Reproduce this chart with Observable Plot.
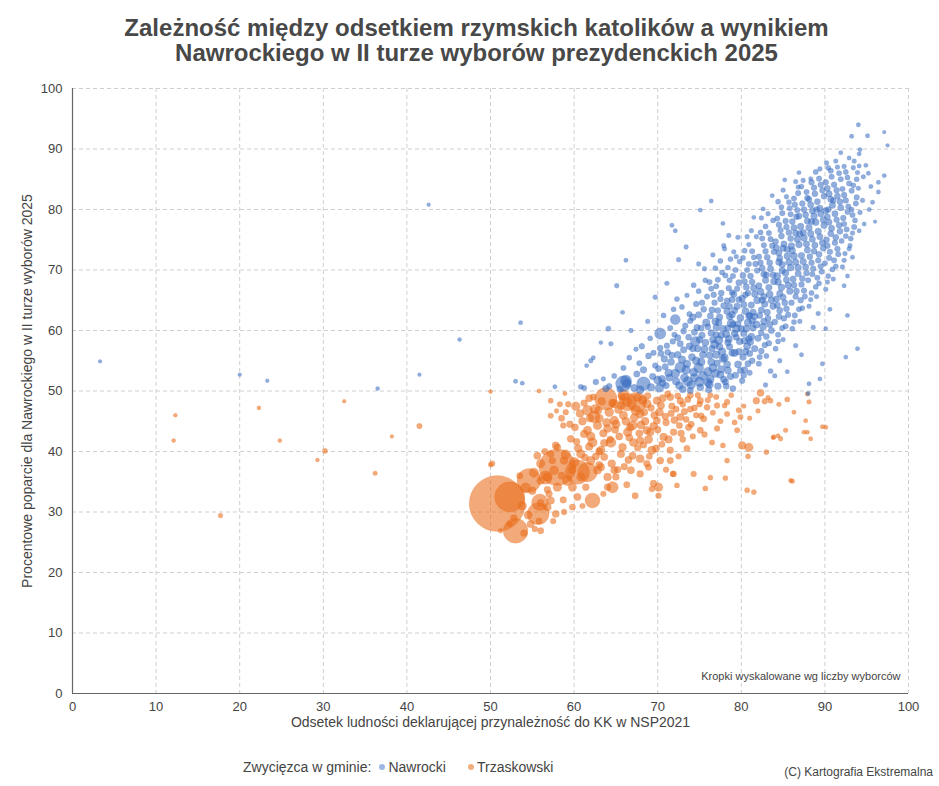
<!DOCTYPE html>
<html>
<head>
<meta charset="utf-8">
<script src="https://cdn.jsdelivr.net/npm/d3@7"></script>
<script src="https://cdn.jsdelivr.net/npm/@observablehq/plot@0.6"></script>
<style>
  body { margin: 0; background: #fff; font-family: "Liberation Sans", Arial, sans-serif; color: #444; }
  #wrap { position: relative; width: 939px; height: 786px; overflow: hidden; }
  #title { position: absolute; top: 15px; left: 7px; width: 939px; text-align: center; font-weight: bold; font-size: 24px; line-height: 25px; color: #484848; }
  #chart { position: absolute; top: 0; left: 0; }
  #legend { position: absolute; top: 759px; left: 243px; font-size: 14px; color: #444; white-space: nowrap; }
  #legend .dot { display: inline-block; width: 6px; height: 6px; border-radius: 50%; margin: 0 3px 2px 8px; vertical-align: middle; }
  #credit { position: absolute; top: 765px; right: 6px; font-size: 12px; color: #444; }
</style>
</head>
<body>
<div id="wrap">
  <div id="chart"></div>
  <div id="title">Zależność między odsetkiem rzymskich katolików a wynikiem<br>Nawrockiego w II turze wyborów prezydenckich 2025</div>
  <div id="legend">Zwycięzca w gminie:<span class="dot" style="background:#9db8e4"></span>Nawrocki<span class="dot" style="background:#f2ad7c;margin-left:22px"></span>Trzaskowski</div>
  <div id="credit">(C) Kartografia Ekstremalna</div>
</div>
<script>
// [odsetek katolików %, poparcie Nawrockiego %, liczba wyborców (tys.)]
const nawrocki = [
  [3.3,54.9,1],[20.0,52.7,1],[23.3,51.7,1],[36.5,50.4,1.5],[41.5,52.7,1],[46.3,58.5,1.5],[42.6,80.8,1],
  [53.0,51.6,2],[53.8,51.3,2],[53.6,61.3,2],[57.7,50.7,2],[60.8,50.7,4],[61.5,54.2,2],[62.3,55.5,2],[63.2,58.0,1.5],
  [61.2,50.5,4],[62.6,51.5,6],[63.8,50.4,10],[65.9,51.2,88],
  [64.2,50.8,6],[64.8,52.5,4],[65.5,50.3,9],[65.9,53.8,5],[66.3,51.2,22],[66.6,55.5,4],[65.1,67.4,3],[64.1,60.3,4],
  [64.4,57.8,3],[62.0,55.0,3],[66.2,71.6,2],[65.8,63.0,2],[66.8,60.0,3],[63.5,52.0,3],[66.2,51.7,40],
  [67.2,50.5,12],[67.5,52.8,8],[67.8,54.6,5],[68.1,57.4,6],[68.3,51.2,64],[68.3,53.5,10],[68.9,55.8,7],[67.4,56.9,3],
  [69.2,50.6,14],[69.4,52.4,9],[69.7,54.2,6],[69.1,58.7,4],[69.7,65.5,3],[68.8,61.5,3],[69.5,56.3,5],[67.9,50.2,15],
  [70.2,50.5,20],[70.5,52.0,12],[70.1,53.7,8],[70.8,55.3,10],[70.3,59.5,40],[70.3,57.1,6],[71.0,50.9,9],[71.3,53.0,15],
  [71.6,54.8,11],[71.2,56.4,7],[71.8,58.2,6],[71.5,60.4,5],[72.1,61.8,30],[71.9,63.5,4],[72.2,51.6,14],[72.7,53.9,35],
  [72.4,56.0,10],[72.7,57.8,8],[72.3,65.2,4],[72.5,71.7,3],[71.7,77.4,2],[72.1,76.5,2],[70.7,62.5,4],[71.1,67.8,3],
  [73.0,50.3,12],[73.2,52.2,18],[73.5,54.5,14],[73.1,56.8,9],[73.7,58.9,7],[73.3,60.8,6],[73.8,62.7,5],[73.4,73.8,3],
  [74.0,51.0,20],[74.3,53.1,16],[74.1,55.6,12],[74.5,58.2,28],[74.7,60.5,8],[74.2,62.2,10],[74.6,64.4,6],[74.9,66.5,4],
  [74.9,71.0,3],[75.1,50.6,11],[75.4,52.5,22],[75.2,54.8,15],[75.6,56.9,12],[75.3,59.2,9],[75.8,61.3,14],[75.5,63.5,7],
  [75.9,65.6,5],[75.1,79.9,2],[75.7,68.3,4],[73.9,50.1,8],[74.8,57.0,10],[73.6,51.6,25],[74.9,53.8,30],[76.0,51.4,18],
  [76.1,50.2,9],[76.3,52.0,14],[76.6,53.8,18],[76.2,55.9,11],[76.8,57.7,16],[76.4,59.6,10],[76.9,61.5,12],[76.5,63.4,8],
  [76.7,65.9,6],[76.2,68.0,5],[76.4,81.4,2],[76.9,70.3,4],[77.2,50.8,10],[77.5,52.7,13],[77.1,54.6,9],[77.7,56.5,15],
  [77.3,58.4,20],[77.8,60.3,11],[77.4,62.2,9],[77.9,64.1,8],[77.6,66.2,7],[77.2,68.4,5],[77.8,77.7,2],[77.9,74.0,3],
  [77.5,71.5,4],[76.0,60.6,7],[77.0,59.3,8],[76.5,57.0,9],[77.6,53.6,12],
  [78.1,51.5,8],[78.4,53.4,11],[78.0,55.5,14],[78.6,57.3,9],[78.2,59.4,12],[78.8,61.2,18],[78.3,63.2,10],[78.9,65.1,8],
  [78.5,67.0,6],[78.1,69.1,5],[78.5,75.7,3],[78.7,71.8,4],[79.0,50.4,7],[79.3,52.6,9],[79.6,54.4,11],[79.2,56.3,13],
  [79.8,58.2,10],[79.4,60.3,15],[79.9,62.1,12],[79.5,64.0,9],[79.1,66.0,8],[79.7,67.9,7],[79.3,70.0,5],[79.1,73.0,3],
  [79.6,75.4,3],[78.4,58.0,9],[79.0,61.0,8],[78.6,64.0,7],[78.9,62.6,10],[79.4,58.9,8],
  [80.1,51.7,6],[80.4,53.5,8],[80.2,55.6,10],[80.7,57.4,12],[80.3,59.5,9],[80.8,61.3,14],[80.5,63.2,11],[80.1,65.3,9],
  [80.6,67.2,8],[80.2,69.1,7],[80.9,71.0,5],[80.4,73.2,4],[80.7,75.5,3],[81.0,53.0,5],[81.3,55.0,7],[81.6,57.0,9],
  [81.2,59.0,11],[81.8,61.0,13],[81.4,63.0,10],[81.9,65.0,12],[81.5,67.0,9],[81.1,69.0,7],[81.7,71.0,6],[81.3,73.1,5],
  [81.5,78.7,2],[81.8,75.5,3],[80.0,60.3,9],[81.0,62.5,8],[80.5,65.9,7],[80.9,58.6,10],[81.4,60.4,9],
  [82.1,54.5,5],[82.4,56.6,7],[82.0,58.7,9],[82.6,60.6,11],[82.2,62.5,8],[82.8,64.4,10],[82.3,66.4,12],[82.9,68.3,9],
  [82.5,70.3,7],[82.1,72.2,6],[82.7,74.1,5],[82.3,76.2,4],[82.6,80.1,2],[83.0,55.8,4],[83.3,57.9,6],[83.6,60.0,8],
  [83.2,62.0,7],[83.8,64.0,9],[83.4,66.0,11],[83.9,68.1,10],[83.5,70.2,8],[83.1,72.1,7],[83.7,74.0,6],[83.3,76.1,5],
  [83.8,78.2,4],[83.7,82.3,2],[82.9,51.0,3],[83.5,53.3,4],[82.7,65.6,9],[83.0,69.2,8],
  [84.1,57.0,4],[84.4,59.3,5],[84.0,61.4,7],[84.6,63.3,8],[84.2,65.2,9],[84.8,67.1,10],[84.3,69.0,12],[84.9,70.9,9],
  [84.5,72.8,8],[84.1,74.7,7],[84.7,76.6,6],[84.3,78.5,5],[84.8,80.4,4],[85.0,58.5,3],[85.3,60.7,5],[85.6,62.6,6],
  [85.2,64.6,7],[85.8,66.5,9],[85.4,68.4,8],[85.9,70.4,11],[85.5,72.3,10],[85.1,74.3,8],[85.7,76.2,7],[85.3,78.1,6],
  [85.8,80.2,5],[85.4,82.1,3],[85.2,84.9,2],[84.6,55.0,3],[85.5,53.2,2],[84.0,52.5,3],[84.5,71.3,9],[85.0,73.6,8],
  [86.1,60.3,4],[86.4,62.5,5],[86.0,64.6,6],[86.6,66.5,7],[86.2,68.5,8],[86.8,70.4,9],[86.3,72.3,11],[86.9,74.2,10],
  [86.5,76.1,8],[86.1,78.0,7],[86.7,79.9,6],[86.3,81.8,5],[86.9,86.1,2],[86.8,83.7,3],[87.0,61.5,3],[87.3,63.7,4],
  [87.6,65.6,5],[87.2,67.6,6],[87.8,69.5,7],[87.4,71.4,9],[87.9,73.3,8],[87.5,75.3,10],[87.1,77.2,9],[87.7,79.1,7],
  [87.3,81.0,6],[87.8,82.9,5],[87.4,84.8,3],[86.5,57.5,3],[87.2,56.0,2],[86.0,74.0,9],[87.0,76.0,8],[86.6,78.8,7],
  [88.1,64.0,3],[88.4,66.2,4],[88.0,68.3,5],[88.6,70.2,6],[88.2,72.2,7],[88.8,74.1,8],[88.3,76.0,9],[88.9,77.9,10],
  [88.5,79.8,8],[88.1,81.7,7],[88.7,83.6,6],[88.3,85.1,2],[88.0,49.6,2],[88.1,51.2,2],[89.0,65.6,3],[89.3,67.8,4],
  [89.6,69.7,5],[89.2,71.6,6],[89.8,73.6,7],[89.4,75.5,8],[89.9,77.4,9],[89.5,79.3,8],[89.1,81.3,7],[89.7,83.2,6],
  [89.3,85.1,5],[89.4,86.7,3],[89.7,54.5,2],[89.4,52.0,2],[88.6,60.5,3],[89.2,62.8,3],[88.4,78.0,8],[89.0,80.0,7],
  [90.1,66.8,3],[90.4,69.0,4],[90.0,71.1,5],[90.6,73.0,6],[90.2,75.0,7],[90.8,76.9,8],[90.3,78.8,7],[90.9,80.7,9],
  [90.5,82.6,8],[90.1,84.5,6],[90.7,86.4,5],[90.2,87.7,3],[90.1,60.3,2],[91.0,68.5,3],[91.3,70.6,4],[91.6,72.6,5],
  [91.2,74.5,6],[91.8,76.4,7],[91.4,78.3,6],[91.9,80.3,8],[91.5,82.2,7],[91.1,84.1,6],[91.7,86.0,4],[91.9,89.4,2],
  [91.3,88.0,3],[90.6,63.5,2],[90.4,80.0,7],[91.0,81.5,6],
  [92.1,70.5,3],[92.4,72.7,3],[92.0,74.8,4],[92.6,76.7,5],[92.2,78.6,6],[92.8,80.5,5],[92.3,82.4,6],[92.9,84.3,5],
  [92.5,86.2,4],[92.7,69.0,2],[92.3,67.4,2],[92.7,62.5,2],[92.5,55.6,2],[93.0,74.0,3],[93.3,76.1,3],[93.6,78.2,4],
  [93.2,80.0,4],[93.8,82.0,5],[93.4,84.0,4],[93.9,86.1,3],[93.5,88.0,3],[93.3,72.1,2],[93.9,57.0,2],[93.2,92.1,2],
  [94.1,76.5,2],[94.7,77.6,2],[94.2,79.5,3],[94.5,81.5,3],[94.0,83.5,3],[94.6,85.4,3],[94.1,87.2,2],[94.2,89.9,2],
  [94.1,89.2,2],[94.0,94.0,2],[94.9,87.3,2],[95.1,92.2,2],[95.3,80.0,2],[95.7,81.2,2],[95.5,83.8,2],[96.4,82.9,2],
  [96.4,84.5,2],[97.1,85.6,2],[97.1,92.8,1],[97.5,90.6,1],[95.2,86.0,2],[96.0,78.0,1],
  [70.6,51.3,10],[71.4,52.2,12],[70.9,54.0,8],[71.7,55.9,9],[70.4,56.2,7],[71.1,57.5,6],[72.0,59.3,5],[70.0,51.8,18],
  [72.6,50.9,16],[73.4,53.5,20],[72.9,55.2,14],[73.8,57.4,10],[72.4,58.8,8],[73.1,59.9,7],[73.9,61.6,6],[72.9,63.9,4],
  [73.5,65.8,3],[72.1,52.9,22],[74.4,52.2,18],[75.0,51.5,26],[74.6,55.0,15],[75.4,56.0,11],[74.2,57.0,9],[75.0,58.5,10],
  [74.4,59.7,8],[75.2,60.4,7],[74.9,62.6,9],[75.3,64.6,6],[74.3,67.5,4],[75.6,70.2,3],[76.0,53.2,20],[75.7,58.0,12],
  [76.2,51.1,15],[76.9,52.9,17],[76.4,54.8,12],[77.0,56.0,14],[76.6,58.5,10],[77.4,57.3,11],[77.0,60.5,9],[76.3,62.4,8],
  [77.2,63.3,7],[76.8,64.6,6],[77.5,65.2,6],[76.4,66.9,5],[77.0,67.3,5],[77.7,69.6,4],[76.6,72.5,3],[77.9,51.9,10],
  [77.8,55.3,12],[77.6,59.2,9],[77.3,61.3,10],
  [78.2,50.8,7],[78.7,52.4,9],[78.3,54.4,12],[78.9,56.3,10],[78.5,58.6,13],[79.2,59.5,11],[78.4,60.4,9],[79.6,61.1,8],
  [78.6,62.3,10],[79.2,63.3,8],[78.3,64.9,7],[79.7,65.1,7],[78.9,66.3,6],[79.5,66.9,6],[78.6,68.3,5],[79.0,69.0,5],
  [78.4,70.4,4],[79.8,71.4,4],[79.4,72.2,3],[78.0,73.5,3],[79.9,53.4,8],[79.7,56.5,9],
  [80.3,52.6,6],[80.8,54.5,8],[80.5,56.5,9],[81.0,56.2,8],[80.4,58.3,10],[81.1,58.1,9],[80.6,60.3,11],[81.3,61.6,10],
  [80.9,62.4,9],[81.6,62.3,8],[80.3,64.3,8],[81.2,64.2,9],[80.8,66.2,7],[81.6,66.0,8],[80.4,68.1,6],[81.3,68.0,7],
  [80.7,70.0,5],[81.9,69.9,6],[80.2,72.0,4],[81.5,72.1,4],[80.9,74.2,3],[81.2,76.5,3],
  [82.2,55.6,5],[82.8,57.6,6],[82.4,59.6,7],[83.0,59.0,7],[82.7,61.5,9],[83.4,61.0,8],[82.4,63.4,8],[83.1,63.0,9],
  [82.5,65.0,9],[83.6,65.0,10],[82.1,67.4,8],[83.3,67.1,9],[82.7,69.3,8],[83.8,69.2,8],[82.3,71.2,6],[83.4,71.2,7],
  [82.9,73.1,6],[83.9,73.0,6],[82.5,75.2,5],[83.5,75.1,5],[82.9,77.2,4],[83.2,79.3,3],[82.4,78.6,3],
  [84.4,58.2,4],[84.9,60.4,5],[84.5,62.3,7],[85.1,62.0,6],[84.3,64.2,8],[85.4,63.6,7],[84.6,66.1,9],[85.0,65.5,8],
  [84.4,68.0,10],[85.6,67.5,9],[84.9,69.9,9],[85.3,69.5,10],[84.6,71.9,8],[85.7,71.3,9],[84.2,73.7,8],[85.5,73.4,8],
  [84.8,75.6,7],[85.9,75.2,7],[84.5,77.5,6],[85.4,77.1,6],[84.9,79.4,5],[85.9,79.2,5],[84.4,81.3,4],[85.7,81.2,4],
  [85.0,83.2,3],
  [86.3,61.4,4],[86.9,63.5,5],[86.5,65.6,6],[87.1,65.0,6],[86.3,67.5,7],[87.5,66.6,6],[86.8,69.4,8],[87.3,68.6,7],
  [86.5,71.3,9],[87.7,70.5,8],[86.1,73.2,9],[87.2,72.4,9],[86.7,75.1,9],[87.8,74.3,9],[86.3,77.0,8],[87.4,76.2,9],
  [86.9,78.9,7],[87.9,78.1,8],[86.4,80.8,6],[87.5,80.0,7],[86.8,82.7,5],[87.9,81.9,6],[86.5,84.6,3],[87.2,83.8,4],
  [88.3,65.1,3],[88.9,67.2,4],[88.5,69.3,5],[89.1,68.7,5],[88.4,71.2,6],[89.5,70.6,6],[88.7,73.1,7],[89.3,72.6,7],
  [88.5,75.1,8],[89.7,74.5,8],[88.1,77.0,9],[89.2,76.4,9],[88.7,78.9,9],[89.8,78.3,8],[88.3,80.8,8],[89.4,80.2,8],
  [88.8,82.6,7],[89.9,82.2,7],[88.4,84.5,6],[89.5,84.1,6],[88.9,86.2,4],
  [90.3,68.0,3],[90.9,70.1,4],[90.5,72.0,5],[91.1,71.6,5],[90.3,74.0,6],[91.5,73.5,6],[90.7,76.0,7],[91.3,75.4,7],
  [90.5,77.9,7],[91.7,77.4,7],[90.1,79.8,8],[91.2,79.3,8],[90.7,81.7,8],[91.8,81.3,7],[90.3,83.5,7],[91.4,83.2,6],
  [90.8,85.4,5],[91.9,85.0,5],[90.4,86.9,4],[91.5,87.0,3],
  [92.3,71.6,3],[92.9,73.5,3],[92.5,75.6,4],[93.1,75.2,4],[92.3,77.6,5],[93.5,77.1,5],[92.7,79.6,5],[93.3,79.1,5],
  [92.5,81.5,6],[93.7,81.0,5],[92.1,83.4,5],[93.2,83.1,5],[92.7,85.3,4],[93.8,85.0,4],[92.3,87.1,3],[93.4,86.9,3],
  [92.9,88.5,2]
];
const trzaskowski = [
  [12.3,46.0,1.5],[12.1,41.8,1.5],[17.7,29.4,3],[22.3,47.2,1.5],[24.8,41.8,1.5],[29.3,38.6,1.5],[30.2,40.1,4],
  [32.5,48.3,1],[36.2,36.4,2.5],[38.2,42.5,1],[41.5,44.2,5],[50.0,49.9,1.5],[50.0,37.8,3],[50.2,38.0,6],
  [50.8,31.4,1420],[52.3,32.5,380],[53.0,26.9,250],[54.6,35.2,230],[55.7,29.7,190],[55.9,31.6,100],[58.0,37.4,580],
  [60.4,36.6,240],[62.2,31.9,80],[63.8,48.7,200],[56.6,35.7,60],[61.6,36.6,150],[67.5,48.2,150],[66.4,48.2,120],
  [55.8,50.0,2],[58.9,49.6,2],[57.2,48.4,4],[57.9,46.7,3],[57.2,45.9,5],[58.7,44.3,6],[61.6,46.8,30],[62.4,45.7,45],
  [64.8,47.9,20],[65.6,47.6,15],[65.9,49.3,40],[67.9,46.2,18],[68.7,47.9,22],[69.9,48.4,14],[71.5,49.0,12],
  [72.7,48.4,10],[73.9,49.3,8],[75.1,48.4,9],[75.9,47.3,7],[77.1,47.6,6],[78.3,48.2,6],[79.7,46.8,5],[82.3,49.7,12],
  [81.8,48.4,10],[82.8,48.3,6],[83.5,48.4,4],[84.5,47.8,3],[85.5,48.6,4],[87.9,49.5,2],[88.1,48.2,3],
  [61.6,43.5,18],[62.8,44.3,20],[64.0,43.8,16],[64.8,45.1,22],[62.2,41.5,25],[61.2,42.9,14],[59.6,42.1,12],
  [58.0,40.7,10],[60.8,39.6,20],[63.2,40.2,18],[64.4,41.5,30],[65.8,40.7,15],[66.4,43.2,20],[67.0,44.3,25],
  [67.9,41.8,14],[68.7,43.5,16],[69.9,45.1,12],[70.7,42.4,14],[71.9,43.2,10],[72.7,45.7,12],[73.7,44.0,9],
  [75.1,43.5,8],[75.5,45.4,8],[77.1,43.8,6],[78.3,46.2,5],[79.9,45.7,5],[79.5,43.5,5],[80.9,40.7,20],[80.1,41.0,14],
  [83.0,39.9,4],[83.9,42.4,3],[84.7,42.1,3],[85.3,43.5,3],[87.5,43.2,2],[88.3,42.1,2],[87.7,45.1,2],[90.1,44.0,2],
  [84.4,42.6,2],[83.8,42.3,2],[87.9,43.2,2],[80.8,39.2,4],[78.3,38.5,4],
  [65.6,39.6,14],[67.0,39.3,12],[67.9,38.8,16],[69.3,40.2,18],[71.5,40.2,10],[73.5,40.5,8],[71.5,38.5,9],
  [70.3,38.5,12],[68.7,38.0,10],[66.8,36.9,12],[67.9,36.3,10],[68.9,37.4,8],[70.1,34.1,20],[67.3,32.7,8],
  [69.5,34.7,10],[71.9,36.3,7],[74.3,36.3,6],[76.3,35.7,4],[78.1,35.6,4],[75.7,33.9,4],[80.7,33.6,4],
  [81.5,33.3,4],[86.1,35.1,3],[69.3,33.8,6],[70.1,32.7,6],[72.3,34.4,4],[71.8,36.3,5],
  [55.6,39.3,12],[57.2,39.6,10],[56.8,35.8,18],[56.0,35.2,15],[57.6,36.9,22],[58.8,38.5,15],[59.2,35.2,30],
  [59.8,34.1,18],[60.4,32.5,12],[58.0,34.1,20],[57.2,31.9,14],[57.8,29.7,12],[56.8,30.8,15],[59.8,30.8,8],
  [56.0,26.9,8],[54.0,26.5,10],[54.8,28.0,12],[51.2,26.9,3],[64.0,35.8,15],[64.8,36.9,12],[64.6,34.1,40],
  [64.0,34.1,10],[63.2,37.4,14],[62.0,38.5,20],[62.8,36.9,16],[63.6,39.1,12],[60.8,35.8,18],[61.4,34.1,10],
  [60.2,47.5,20],[61.0,45.0,15],[61.8,48.8,12],[62.5,47.0,25],[63.0,45.5,18],[63.5,43.0,14],[64.2,46.5,22],
  [64.6,48.0,16],[65.0,44.5,20],[65.4,42.5,12],[65.9,46.0,18],[66.3,48.2,25],[66.7,44.0,14],[67.1,41.5,16],
  [67.4,46.8,30],[67.8,43.0,12],[68.2,48.5,20],[68.5,45.0,15],[68.9,42.0,18],[69.2,47.2,10],[69.5,44.2,14],
  [69.8,40.5,12],[70.2,46.5,16],[70.6,48.8,12],[71.0,44.8,10],[71.3,42.0,14],[71.7,47.5,9],[72.0,45.2,12],
  [72.4,49.2,8],[72.8,43.0,10],[73.2,46.6,9],[73.6,48.6,8],[74.0,44.5,8],[74.4,47.2,7],[74.8,49.3,6],
  [75.2,45.9,7],[75.6,42.8,6],[76.0,48.5,6],[76.6,46.4,5],[77.0,49.0,5],[77.5,45.0,5],[78.0,47.6,4],
  [78.8,49.3,4],[79.2,44.8,4],[80.3,47.5,3],[81.0,45.5,3],[82.0,46.7,3],[83.2,48.9,3],[86.3,46.5,2],
  [63.0,40.0,12],[64.5,38.0,15],[66.0,37.5,10],[62.0,42.5,20],[60.5,40.5,14],[59.5,44.5,10],[59.0,46.5,6],
  [58.3,47.8,5],[61.3,39.0,11],[60.0,38.2,30],[59.0,39.5,25],[57.8,41.0,12],[56.5,40.0,8],[56.0,38.0,20],
  [55.2,36.5,25],[54.2,34.0,30],[53.5,36.0,8],[55.0,33.5,15],[57.0,33.0,10],[58.7,32.0,9],[56.0,31.5,12],
  [54.5,29.5,18],[53.8,31.0,20],[52.8,29.0,10],[55.8,28.5,8],[57.5,28.5,6],[52.3,28.0,5],[85.9,35.2,2],[89.7,44.1,2],
  [58.5,45.5,8],[59.3,47.8,6],[60.1,44.0,12],[60.7,46.3,15],[61.2,48.0,10],[61.9,45.5,14],[62.3,49.0,8],[62.9,46.8,12],
  [63.3,48.3,15],[63.9,44.8,18],[64.3,42.0,10],[64.9,43.6,12],[65.3,46.9,14],[65.7,49.1,10],[66.2,45.0,16],[66.6,42.3,12],
  [67.2,45.6,18],[67.6,48.9,14],[68.0,44.4,16],[68.4,46.5,12],[68.8,49.2,10],[69.1,43.2,14],[69.6,46.0,12],[70.0,43.6,10],
  [70.4,47.6,12],[70.9,45.8,10],[71.2,49.5,8],[71.6,46.3,9],[72.2,47.0,8],[72.6,44.3,8],[73.0,47.8,7],[73.4,45.3,7],
  [73.9,47.0,7],[74.6,46.0,6],[75.0,47.8,6],[76.3,49.3,5],[63.6,41.4,14],[62.6,39.2,12],[61.8,40.8,14],[60.3,41.6,10],
  [59.8,37.0,15],[58.5,36.0,12],[57.4,38.5,10],[63.0,37.8,12],[65.2,37.0,10],[66.5,38.6,12],[67.6,40.6,10],[68.3,41.1,10],
  [69.0,39.2,8],[70.5,41.2,8],[71.0,37.0,6],[72.5,39.2,6],[73.0,42.0,7],[74.2,42.5,6],[76.5,41.5,5],[77.8,41.0,4],
  [66.3,34.5,8],[65.0,35.8,10],[63.5,33.0,6],[61.0,31.0,5],[58.8,30.0,6],[55.3,27.2,6],[56.8,33.7,10]
];
const xTicks = [0,10,20,30,40,50,60,70,80,90,100];
const yTicks = [0,10,20,30,40,50,60,70,80,90,100];
const xLabel = "Odsetek ludności deklarującej przynależność do KK w NSP2021";
const yLabel = "Procentowe poparcie dla Nawrockiego w II turze wyborów 2025";
const note = "Kropki wyskalowane wg liczby wyborców";

const blue = "#3469c0", orange = "#e86d1a";

const chart = Plot.plot({
  width: 939,
  height: 745,
  marginTop: 88,
  marginLeft: 72,
  marginRight: 31,
  marginBottom: 52,
  style: {fontFamily: "'Liberation Sans', Arial, sans-serif", fontSize: "13px", color: "#444", background: "transparent"},
  x: {domain: [0, 100]},
  y: {domain: [0, 100]},
  r: {type: "sqrt", domain: [0, 1420], range: [1.2, 28]},
  marks: [
    Plot.gridX(xTicks.slice(1), {stroke: "#cfcfcf", strokeOpacity: 1, strokeDasharray: "4,3"}),
    Plot.gridY(yTicks.slice(1), {stroke: "#cfcfcf", strokeOpacity: 1, strokeDasharray: "4,3"}),
    Plot.dot(trzaskowski, {x: d => d[0], y: d => d[1], r: d => d[2], fill: orange, fillOpacity: 0.58, stroke: orange, strokeOpacity: 0.25, strokeWidth: 0.6}),
    Plot.dot(nawrocki, {x: d => d[0], y: d => d[1], r: d => d[2], fill: blue, fillOpacity: 0.55, stroke: blue, strokeOpacity: 0.25, strokeWidth: 0.6}),
    Plot.ruleX([0], {stroke: "#666", strokeWidth: 1.2}),
    Plot.ruleY([0], {stroke: "#666", strokeWidth: 1.2}),
    Plot.axisX(xTicks, {tickSize: 0, tickPadding: 8, label: null, fontSize: 13}),
    Plot.axisY(yTicks, {tickSize: 0, tickPadding: 10, label: null, fontSize: 13}),
    Plot.text([xLabel], {frameAnchor: "bottom", dy: 33, fontSize: 14, fill: "#444"}),
    Plot.text([yLabel], {frameAnchor: "left", dx: -45, rotate: -90, textAnchor: "middle", fontSize: 14, fill: "#444"}),
    Plot.text([note], {frameAnchor: "bottom-right", dx: -8, dy: -14, fontSize: 11, fill: "#444", textAnchor: "end"})
  ]
});
document.getElementById("chart").appendChild(chart);
</script>
</body>
</html>
